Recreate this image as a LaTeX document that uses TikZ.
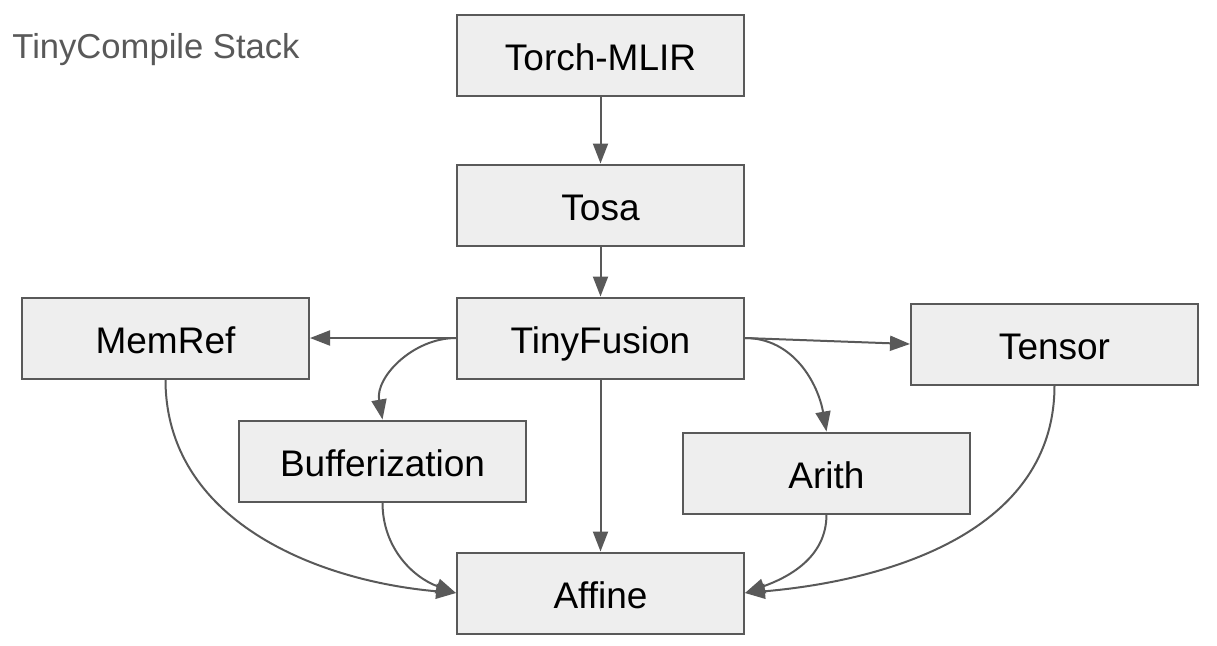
\documentclass[tikz,border=0pt]{standalone}
\usepackage{fontspec}
\setmainfont{Liberation Sans}
\usetikzlibrary{arrows.meta}
\definecolor{boxfill}{HTML}{EEEEEE}
\definecolor{linegray}{HTML}{595959}
\begin{document}
\begin{tikzpicture}[x=0.5pt,y=-0.5pt,
  box/.style={draw=linegray,fill=boxfill,line width=1pt,minimum width=143.5pt,minimum height=40.5pt,inner sep=0pt,text height=15pt,text depth=0pt,font=\fontsize{18.5}{22}\selectfont,text=black},
  conn/.style={draw=linegray,line width=1pt,-{Triangle[length=10pt,width=7.5pt]}}]
\useasboundingbox (0,0) rectangle (1217,645);
\node[anchor=base west,text=linegray,font=\fontsize{17.3}{20}\selectfont,inner sep=0pt] (title) at (12,58) {TinyCompile Stack};
\node[box] (torch) at (600.5,55) {Torch-MLIR};
\node[box] (tosa) at (600.5,205) {Tosa};
\node[box] (tf) at (600.5,338) {TinyFusion};
\node[box] (memref) at (165.5,338) {MemRef};
\node[box] (tensor) at (1054.5,344) {Tensor};
\node[box] (buf) at (382.5,461) {Bufferization};
\node[box] (arith) at (826.5,473) {Arith};
\node[box] (affine) at (600.5,593) {Affine};
\draw[conn] (torch) -- (tosa);
\draw[conn] (tosa) -- (tf);
\draw[conn] (tf) -- (affine);
\draw[conn] (tf.west) -- (memref.east);
\draw[conn] (tf.east) -- (tensor.west);
\draw[conn] (tf.west) to[out=180,in=100] (buf.north);
\draw[conn] (tf.east) to[out=0,in=100] (arith.north);
\draw[conn] (memref.south) to[out=-90,in=175] (affine.west);
\draw[conn] (buf.south) to[out=-90,in=160] (affine.west);
\draw[conn] (arith.south) to[out=-90,in=20] (affine.east);
\draw[conn] (tensor.south) to[out=-90,in=5] (affine.east);
\end{tikzpicture}
\end{document}
